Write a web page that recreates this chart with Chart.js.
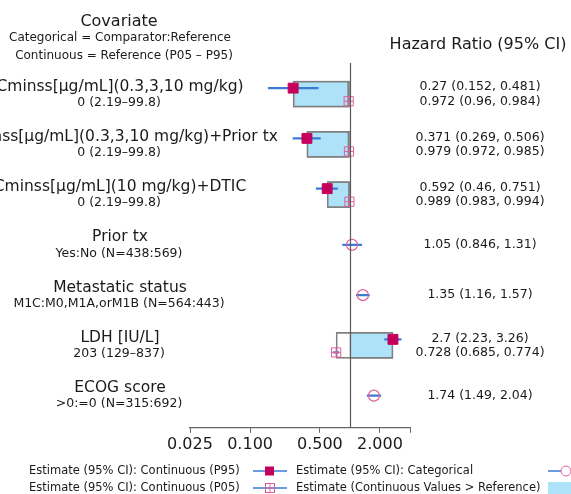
<!DOCTYPE html>
<html>
<head>
<meta charset="utf-8">
<script src="https://cdn.jsdelivr.net/npm/chart.js@4.4.0/dist/chart.umd.min.js"></script>
<style>
    html, body { margin: 0; padding: 0; background: #fff; }
    #wrap { width: 571px; height: 494px; position: relative; }
</style>
</head>
<body>
<div id="wrap"><canvas id="forest"></canvas></div>
<script>
// row labels (top to bottom)
const covariates = ['Cminss[μg/mL](0.3,3,10 mg/kg)', 'Cminss[μg/mL](0.3,3,10 mg/kg)+Prior tx', 'Cminss[μg/mL](10 mg/kg)+DTIC',
    'Prior tx', 'Metastatic status', 'LDH [IU/L]', 'ECOG score'];
const refLabels = ['0 (2.19–99.8)', '0 (2.19–99.8)', '0 (2.19–99.8)', 'Yes:No (N=438:569)',
    'M1C:M0,M1A,orM1B (N=564:443)', '203 (129–837)', '>0:=0 (N=315:692)'];

// continuous covariates: hazard ratio at P95 and at P05
const p95Est = [0.27, 0.371, 0.592, null, null, 2.7, null];
const p95Lo = [0.152, 0.269, 0.46, null, null, 2.23, null];
const p95Hi = [0.481, 0.506, 0.751, null, null, 3.26, null];
const p05Est = [0.972, 0.979, 0.989, null, null, 0.728, null];
const p05Lo = [0.96, 0.972, 0.983, null, null, 0.685, null];
const p05Hi = [0.984, 0.985, 0.994, null, null, 0.774, null];

// categorical covariates
const catEst = [null, null, null, 1.05, 1.35, null, 1.74];
const catLo = [null, null, null, 0.846, 1.16, null, 1.49];
const catHi = [null, null, null, 1.31, 1.57, null, 2.04];

const xTicks = [0.025, 0.1, 0.5, 2, 4];
const xTickLabels = ['0.025', '0.100', '0.500', '2.000', ''];

const FONT = '"DejaVu Sans", Verdana, sans-serif';
const RED = '#c4005c';
const PINK = '#e0609c';
const BLUE = '#3a7bd4';
const BOX = '#ade2f8';
const GREY = '#808080';

// small shift so the P95 and P05 estimates of a row sit above / below each other
const UP = -0.12, DOWN = 0.14;

const rows = covariates.map((c, i) => i + 1);
const isCont = i => p95Est[i] !== null;

const outlineBars = [], blueBars = [], whiskers = [];
const p95Pts = [], p05Pts = [], catPts = [];
rows.forEach((r, i) => {
    if (isCont(i)) {
        outlineBars.push({ y: r, x: [p05Est[i], p95Est[i]] });
        blueBars.push({ y: r, x: [1, p95Est[i]] });
        whiskers.push({ y: r + UP, x: [p95Lo[i], p95Hi[i]] });
        whiskers.push({ y: r + DOWN, x: [p05Lo[i], p05Hi[i]] });
        p95Pts.push({ x: p95Est[i], y: r + UP });
        p05Pts.push({ x: p05Est[i], y: r + DOWN });
    } else {
        whiskers.push({ y: r, x: [catLo[i], catHi[i]] });
        catPts.push({ x: catEst[i], y: r });
    }
});

const fmt = (e, lo, hi) => `${e} (${lo}, ${hi})`;

// reference line at HR = 1
const refLine = {
    id: 'refLine',
    afterDatasetsDraw(chart) {
        const { ctx, chartArea } = chart;
        const x = Math.round(chart.scales.x.getPixelForValue(1)) + 0.5;
        ctx.save();
        ctx.strokeStyle = '#5a5a5a';
        ctx.lineWidth = 1.2;
        ctx.beginPath();
        ctx.moveTo(x, chartArea.top);
        ctx.lineTo(x, chartArea.bottom);
        ctx.stroke();
        ctx.restore();
    }
};

// labels on both sides, headers and the legend
const sideText = {
    id: 'sideText',
    afterDraw(chart) {
        const ctx = chart.ctx;
        const ys = chart.scales.y;
        ctx.save();
        ctx.fillStyle = '#1a1a1a';
        ctx.textAlign = 'center';
        ctx.textBaseline = 'middle';

        ctx.font = '16px ' + FONT;
        ctx.fillText('Covariate', 119, 22);
        ctx.fillText('Hazard Ratio (95% CI)', 478, 45);
        ctx.font = '12px ' + FONT;
        ctx.fillText('Categorical = Comparator:Reference', 120, 38);
        ctx.fillText('Continuous = Reference (P05 – P95)', 124, 56);

        rows.forEach((r, i) => {
            const cy = ys.getPixelForValue(r);
            ctx.font = '15.5px ' + FONT;
            ctx.fillText(covariates[i], 120, cy - 7.5);
            ctx.font = '12.5px ' + FONT;
            ctx.fillText(refLabels[i], 119, cy + 8.5);
            if (isCont(i)) {
                ctx.fillText(fmt(p95Est[i], p95Lo[i], p95Hi[i]), 480, cy - 7);
                ctx.fillText(fmt(p05Est[i], p05Lo[i], p05Hi[i]), 480, cy + 7.5);
            } else {
                ctx.fillText(fmt(catEst[i], catLo[i], catHi[i]), 480, cy);
            }
        });

        // legend
        ctx.textAlign = 'left';
        ctx.font = '11.5px ' + FONT;
        const l1 = 471, l2 = 488;
        ctx.fillText('Estimate (95% CI): Continuous (P95)', 29, l1);
        ctx.fillText('Estimate (95% CI): Continuous (P05)', 29, l2);
        ctx.fillText('Estimate (95% CI): Categorical', 296, l1);
        ctx.fillText('Estimate (Continuous Values > Reference)', 296, l2);

        ctx.strokeStyle = BLUE;
        ctx.lineWidth = 1.5;
        [[253, 287, l1], [253, 287, l2], [548, 575, l1]].forEach(([a, b, y]) => {
            ctx.beginPath(); ctx.moveTo(a, y); ctx.lineTo(b, y); ctx.stroke();
        });
        ctx.fillStyle = RED;
        ctx.fillRect(265, l1 - 4.5, 9, 9);
        ctx.strokeStyle = PINK;
        ctx.lineWidth = 1;
        ctx.strokeRect(265.5, l2 - 4.5, 9, 9);
        ctx.beginPath();
        ctx.moveTo(270, l2 - 4.5); ctx.lineTo(270, l2 + 4.5);
        ctx.moveTo(265.5, l2); ctx.lineTo(274.5, l2);
        ctx.stroke();
        ctx.fillStyle = '#fff';
        ctx.beginPath(); ctx.arc(566, l1, 5, 0, Math.PI * 2); ctx.fill(); ctx.stroke();
        ctx.fillStyle = BOX;
        ctx.fillRect(548, l2 - 6, 30, 12);
        ctx.restore();
    }
};

new Chart(document.getElementById('forest'), {
    type: 'bar',
    data: {
        datasets: [
            { label: 'outline', data: outlineBars, backgroundColor: 'rgba(0,0,0,0)', borderColor: GREY,
              borderWidth: 1, borderSkipped: false, barThickness: 26, grouped: false, order: 4 },
            { label: 'above ref', data: blueBars, backgroundColor: BOX, borderColor: GREY,
              borderWidth: 1, borderSkipped: false, barThickness: 26, grouped: false, order: 5 },
            { label: 'ci', data: whiskers, backgroundColor: BLUE, borderWidth: 0,
              barThickness: 1.5, grouped: false, order: 3 },
            { type: 'scatter', label: 'P95', data: p95Pts, pointStyle: 'rect', pointRadius: 7,
              backgroundColor: RED, borderColor: RED, borderWidth: 1, order: 1 },
            { type: 'scatter', label: 'P05', data: p05Pts, pointStyle: 'rect', pointRadius: 6.5,
              backgroundColor: 'rgba(0,0,0,0)', borderColor: PINK, borderWidth: 1, order: 1 },
            { type: 'scatter', label: 'P05 cross', data: p05Pts, pointStyle: 'cross', pointRadius: 4.5,
              borderColor: PINK, borderWidth: 1, order: 1 },
            { type: 'scatter', label: 'Categorical', data: catPts, pointStyle: 'circle', pointRadius: 5.5,
              backgroundColor: 'rgba(0,0,0,0)', borderColor: PINK, borderWidth: 1.2, order: 1 }
        ]
    },
    options: {
        indexAxis: 'y',
        responsive: true,
        maintainAspectRatio: false,
        animation: false,
        layout: { padding: { left: 190, right: 161, top: 63, bottom: 38 } },
        plugins: { legend: { display: false }, tooltip: { enabled: false } },
        scales: {
            x: {
                type: 'logarithmic',
                min: 0.025,
                max: 4,
                afterBuildTicks: axis => { axis.ticks = xTicks.map(v => ({ value: v })); },
                ticks: {
                    autoSkip: false, maxRotation: 0, padding: 2,
                    color: '#1a1a1a', font: { family: FONT, size: 16 },
                    callback: (v, i) => xTickLabels[i]
                },
                grid: { drawOnChartArea: false, drawTicks: true, tickLength: 5, color: '#666' },
                border: { display: true, color: '#666', width: 1.2 }
            },
            y: { type: 'linear', reverse: true, offset: false, min: 0.38, max: 7.64, display: false }
        }
    },
    plugins: [refLine, sideText]
});
</script>
</body>
</html>
